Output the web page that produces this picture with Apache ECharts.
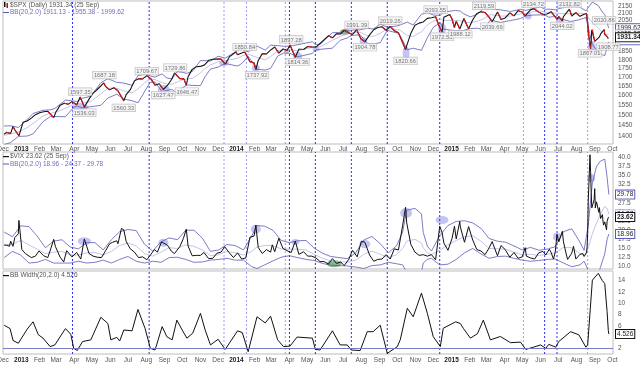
<!DOCTYPE html>
<html><head><meta charset="utf-8">
<script src="https://cdn.jsdelivr.net/npm/echarts@6/dist/echarts.min.js"></script>
<style>html,body{margin:0;padding:0;background:#fff}#c{width:640px;height:366px}</style>
</head><body><div id="c"></div>
<script>
// ---------- DATA ----------
const spxDates = ['2012-12-03','2012-12-07','2012-12-14','2012-12-18','2012-12-21','2012-12-28','2013-01-04','2013-01-11','2013-01-18','2013-01-25','2013-02-01','2013-02-08','2013-02-15','2013-02-25','2013-03-01','2013-03-08','2013-03-15','2013-03-22','2013-03-28','2013-04-05','2013-04-11','2013-04-18','2013-04-26','2013-05-03','2013-05-10','2013-05-21','2013-05-24','2013-05-31','2013-06-07','2013-06-14','2013-06-24','2013-06-28','2013-07-05','2013-07-12','2013-07-19','2013-07-26','2013-08-02','2013-08-09','2013-08-16','2013-08-23','2013-08-30','2013-09-06','2013-09-13','2013-09-18','2013-09-27','2013-10-04','2013-10-08','2013-10-11','2013-10-18','2013-10-25','2013-11-01','2013-11-08','2013-11-15','2013-11-22','2013-11-29','2013-12-06','2013-12-13','2013-12-20','2013-12-31','2014-01-03','2014-01-10','2014-01-15','2014-01-17','2014-01-24','2014-01-31','2014-02-03','2014-02-07','2014-02-14','2014-02-21','2014-02-28','2014-03-07','2014-03-14','2014-03-21','2014-03-28','2014-04-02','2014-04-11','2014-04-17','2014-04-25','2014-05-02','2014-05-09','2014-05-16','2014-05-23','2014-05-30','2014-06-06','2014-06-13','2014-06-20','2014-06-27','2014-07-03','2014-07-11','2014-07-17','2014-07-24','2014-07-31','2014-08-07','2014-08-15','2014-08-22','2014-08-29','2014-09-05','2014-09-12','2014-09-19','2014-09-26','2014-10-03','2014-10-10','2014-10-15','2014-10-17','2014-10-24','2014-10-31','2014-11-07','2014-11-14','2014-11-21','2014-11-28','2014-12-05','2014-12-12','2014-12-16','2014-12-19','2014-12-29','2015-01-02','2015-01-06','2015-01-09','2015-01-15','2015-01-22','2015-01-30','2015-02-06','2015-02-13','2015-02-20','2015-02-27','2015-03-06','2015-03-11','2015-03-13','2015-03-20','2015-03-26','2015-04-02','2015-04-10','2015-04-17','2015-04-24','2015-05-01','2015-05-06','2015-05-15','2015-05-21','2015-05-29','2015-06-05','2015-06-12','2015-06-19','2015-06-29','2015-07-02','2015-07-08','2015-07-10','2015-07-20','2015-07-24','2015-07-31','2015-08-07','2015-08-14','2015-08-18','2015-08-20','2015-08-21','2015-08-24','2015-08-25','2015-08-27','2015-08-28','2015-09-01','2015-09-04','2015-09-09','2015-09-11','2015-09-17','2015-09-18','2015-09-22','2015-09-24','2015-09-25'];
const spxClose = [1409,1418,1413,1446,1430,1402,1466,1472,1486,1503,1513,1518,1520,1488,1518,1551,1561,1556,1569,1553,1593,1541,1582,1614,1633,1669,1650,1631,1643,1626,1573,1606,1632,1680,1692,1691,1709,1691,1656,1664,1633,1655,1688,1725,1692,1691,1656,1703,1745,1760,1762,1771,1798,1804,1806,1805,1775,1818,1848,1831,1842,1848,1839,1790,1783,1742,1797,1838,1836,1859,1878,1841,1866,1857,1891,1816,1864,1863,1881,1878,1878,1900,1924,1949,1936,1963,1961,1985,1967,1958,1988,1931,1910,1955,1988,2003,2008,1985,2011,1982,1968,1906,1862,1887,1965,2018,2032,2040,2064,2068,2075,2003,1973,2071,2091,2058,2003,2045,1993,2063,1995,2055,2097,2110,2104,2071,2041,2053,2108,2057,2067,2102,2081,2117,2108,2081,2123,2131,2107,2092,2094,2110,2058,2077,2047,2077,2128,2080,2104,2078,2092,2097,2036,1971,1893,1868,1988,1989,1914,1921,1942,1961,1990,1958,1943,1932,1931.34];

const spxBandDates = ['2012-12-03','2012-12-14','2012-12-27','2013-01-11','2013-01-21','2013-02-07','2013-02-19','2013-02-27','2013-03-17','2013-03-31','2013-04-06','2013-04-15','2013-04-29','2013-05-16','2013-05-28','2013-06-12','2013-06-24','2013-07-08','2013-07-18','2013-07-30','2013-08-08','2013-08-16','2013-08-28','2013-09-05','2013-09-14','2013-09-22','2013-10-01','2013-10-09','2013-10-19','2013-11-01','2013-11-09','2013-11-18','2013-12-01','2013-12-13','2014-01-03','2014-01-11','2014-01-21','2014-02-05','2014-02-19','2014-02-28','2014-03-12','2014-03-22','2014-04-02','2014-04-14','2014-05-10','2014-05-15','2014-05-23','2014-06-13','2014-06-26','2014-07-08','2014-07-15','2014-07-30','2014-08-11','2014-08-21','2014-09-02','2014-09-14','2014-10-01','2014-10-06','2014-10-18','2014-10-28','2014-11-11','2014-11-21','2014-12-01','2014-12-13','2014-12-18','2015-01-08','2015-01-16','2015-01-21','2015-02-02','2015-02-14','2015-02-24','2015-03-08','2015-03-25','2015-04-11','2015-04-28','2015-05-07','2015-05-20','2015-06-01','2015-06-10','2015-06-15','2015-06-27','2015-07-02','2015-07-22','2015-08-05','2015-08-17','2015-08-20','2015-08-28','2015-09-07','2015-09-14','2015-09-18','2015-09-22','2015-09-24','2015-09-25'];
const spxUpper = [1448,1449,1441,1479,1509,1525,1527,1534,1577,1572,1570,1587,1597,1670,1692,1672,1668,1656,1709,1718,1707,1701,1719,1696,1691,1731,1729,1722,1735,1796,1796,1793,1822,1811,1856,1869,1848,1884,1859,1890,1887,1883,1884,1892,1911,1894,1896,1969,1970,1985,1985,1988,1998,1993,2025,2006,2013,2020,2039,2019,2092,2103,2087,2084,2107,2119,2114,2097,2074,2092,2132,2127,2123,2111,2127,2119,2133,2142,2126,2128,2123,2132,2147,2146,2116,2119,2178,2153,2108,2090,2040,2007,1999.62];
const spxMid = [1405,1410,1420,1440,1460,1497,1510,1514,1535,1556,1558,1562,1570,1610,1640,1640,1625,1615,1636,1672,1690,1687,1670,1662,1662,1672,1685,1690,1695,1725,1750,1770,1790,1795,1810,1825,1835,1815,1800,1820,1855,1862,1862,1855,1875,1877,1880,1920,1945,1960,1968,1972,1950,1945,1965,1995,1990,1985,1950,1945,1975,2020,2045,2060,2050,2050,2048,2040,2035,2045,2060,2090,2080,2080,2095,2100,2110,2115,2105,2100,2100,2098,2095,2100,2093,2092,2035,2000,1970,1958,1957,1956,1955.38];
const spxLower = [1362,1371,1399,1401,1411,1469,1493,1494,1493,1540,1546,1537,1543,1550,1588,1608,1582,1574,1563,1626,1673,1673,1621,1628,1633,1613,1641,1658,1655,1654,1704,1747,1758,1779,1764,1781,1822,1746,1741,1750,1823,1841,1840,1818,1839,1860,1864,1871,1920,1935,1951,1956,1902,1897,1905,1984,1967,1950,1861,1871,1858,1937,2003,2036,1993,1981,1982,1983,1996,1998,1988,2053,2037,2049,2063,2081,2087,2088,2084,2072,2077,2064,2043,2054,2070,2065,1892,1847,1832,1826,1874,1905,1911.13];

const vixDates = ['2012-12-03','2012-12-07','2012-12-12','2012-12-14','2012-12-18','2012-12-21','2012-12-27','2012-12-28','2013-01-02','2013-01-08','2013-01-18','2013-01-25','2013-01-31','2013-02-08','2013-02-15','2013-02-20','2013-02-25','2013-02-28','2013-03-08','2013-03-14','2013-03-19','2013-03-28','2013-04-05','2013-04-12','2013-04-18','2013-04-26','2013-05-03','2013-05-10','2013-05-17','2013-05-23','2013-05-31','2013-06-05','2013-06-12','2013-06-14','2013-06-20','2013-06-24','2013-06-28','2013-07-05','2013-07-12','2013-07-19','2013-07-26','2013-08-02','2013-08-09','2013-08-15','2013-08-20','2013-08-27','2013-08-30','2013-09-06','2013-09-13','2013-09-18','2013-09-27','2013-10-03','2013-10-08','2013-10-11','2013-10-18','2013-10-25','2013-11-01','2013-11-07','2013-11-15','2013-11-22','2013-11-29','2013-12-06','2013-12-12','2013-12-20','2013-12-27','2014-01-03','2014-01-10','2014-01-17','2014-01-24','2014-01-31','2014-02-03','2014-02-07','2014-02-14','2014-02-21','2014-02-28','2014-03-03','2014-03-07','2014-03-14','2014-03-21','2014-03-28','2014-04-04','2014-04-11','2014-04-17','2014-04-25','2014-05-02','2014-05-09','2014-05-16','2014-05-23','2014-05-30','2014-06-06','2014-06-13','2014-06-20','2014-06-27','2014-07-03','2014-07-11','2014-07-17','2014-07-25','2014-08-01','2014-08-07','2014-08-15','2014-08-22','2014-08-29','2014-09-05','2014-09-12','2014-09-19','2014-09-26','2014-10-03','2014-10-10','2014-10-15','2014-10-17','2014-10-24','2014-10-31','2014-11-07','2014-11-14','2014-11-21','2014-11-28','2014-12-05','2014-12-12','2014-12-16','2014-12-19','2014-12-26','2015-01-02','2015-01-06','2015-01-09','2015-01-15','2015-01-16','2015-01-23','2015-01-30','2015-02-06','2015-02-13','2015-02-20','2015-02-27','2015-03-06','2015-03-11','2015-03-13','2015-03-20','2015-03-26','2015-04-02','2015-04-10','2015-04-17','2015-04-24','2015-05-01','2015-05-06','2015-05-08','2015-05-15','2015-05-22','2015-05-29','2015-06-05','2015-06-10','2015-06-12','2015-06-16','2015-06-19','2015-06-23','2015-06-26','2015-06-29','2015-07-02','2015-07-08','2015-07-10','2015-07-15','2015-07-17','2015-07-24','2015-07-27','2015-07-31','2015-08-07','2015-08-12','2015-08-14','2015-08-17','2015-08-18','2015-08-19','2015-08-20','2015-08-21','2015-08-24','2015-08-25','2015-08-26','2015-08-27','2015-08-28','2015-08-31','2015-09-01','2015-09-02','2015-09-03','2015-09-04','2015-09-08','2015-09-09','2015-09-10','2015-09-11','2015-09-14','2015-09-15','2015-09-16','2015-09-17','2015-09-18','2015-09-21','2015-09-22','2015-09-23','2015-09-24','2015-09-25'];
const vixClose = [15.9,15.9,15.6,17.0,15.6,18.0,19.0,22.7,14.7,13.6,12.5,12.9,14.3,13.0,12.5,14.9,17.5,15.5,12.6,11.3,14.4,12.7,13.9,12.1,17.6,13.6,12.9,12.6,12.5,14.1,16.3,16.7,17.1,16.3,20.5,20.1,16.9,14.9,14.0,12.5,12.7,11.9,13.4,14.7,14.0,16.8,17.0,15.9,14.2,13.6,15.5,17.7,20.3,15.7,13.0,13.1,13.1,13.9,12.2,12.3,13.7,14.0,15.5,13.8,12.5,13.8,12.1,12.4,18.1,18.4,21.4,15.3,13.6,14.7,14.0,16.0,14.1,17.8,15.0,14.4,13.9,17.0,13.4,14.1,12.9,12.9,12.4,11.4,11.4,10.7,12.2,10.9,11.3,10.3,12.1,14.5,12.7,17.0,16.7,13.2,11.5,12.0,12.1,13.3,12.1,14.9,14.6,21.2,26.3,22.0,16.1,14.0,13.1,13.3,12.9,13.3,11.9,21.1,19.4,16.5,14.5,17.8,21.1,17.6,22.4,20.9,16.7,21.0,17.3,14.7,14.3,13.3,15.2,16.9,16.0,13.0,15.8,14.7,12.6,13.9,12.3,12.7,15.2,12.9,12.4,12.1,13.8,14.2,13.2,13.8,14.8,13.9,12.1,14.0,18.9,16.8,19.7,16.8,13.2,12.0,13.7,15.6,12.1,13.4,13.6,12.8,13.0,13.8,15.3,19.1,28.0,40.7,36.0,30.3,26.1,26.1,28.4,31.4,26.1,25.6,27.8,24.9,26.2,24.4,23.2,24.3,22.5,21.4,21.1,22.3,20.1,22.4,22.1,23.5,23.62];

const vixBandDates = ['2012-12-03','2012-12-17','2012-12-31','2013-01-14','2013-01-28','2013-02-11','2013-02-25','2013-03-11','2013-03-25','2013-04-08','2013-04-22','2013-05-06','2013-05-20','2013-06-03','2013-06-17','2013-07-01','2013-07-15','2013-07-29','2013-08-12','2013-08-26','2013-09-09','2013-09-23','2013-10-07','2013-10-21','2013-11-04','2013-11-18','2013-12-02','2013-12-16','2013-12-30','2014-01-13','2014-01-27','2014-02-05','2014-02-18','2014-03-04','2014-03-18','2014-04-01','2014-04-15','2014-04-29','2014-05-13','2014-05-27','2014-06-10','2014-06-24','2014-07-08','2014-07-22','2014-08-05','2014-08-19','2014-09-02','2014-09-16','2014-09-30','2014-10-10','2014-10-17','2014-10-31','2014-11-11','2014-11-14','2014-11-21','2014-11-28','2014-12-12','2014-12-26','2015-01-09','2015-01-23','2015-02-06','2015-02-20','2015-03-06','2015-03-20','2015-04-03','2015-04-17','2015-05-01','2015-05-15','2015-05-29','2015-06-12','2015-06-26','2015-07-10','2015-07-24','2015-08-07','2015-08-14','2015-08-21','2015-08-28','2015-09-04','2015-09-11','2015-09-18','2015-09-22','2015-09-25'];
const vixUpper = [19.5,18.2,21.2,21.0,18.4,15.2,17.0,17.4,15.4,14.9,16.6,16.6,14.6,17.4,19.6,20.2,19.9,16.2,14.3,16.8,17.9,17.4,20.0,20.0,17.9,14.2,14.6,16.1,15.8,14.6,18.4,21.3,21.1,20.0,17.2,16.6,17.1,17.2,15.1,13.7,12.8,12.5,12.2,13.7,17.3,18.3,16.3,13.8,15.8,19.5,25.5,26.0,24.5,19.4,15.6,14.3,18.5,21.3,22.4,22.6,22.0,20.5,17.7,17.0,16.7,15.7,14.6,15.3,14.5,14.8,15.5,19.6,20.4,16.7,14.5,21.4,33.0,37.5,39.0,39.5,34.5,29.78];
const vixMid = [16.0,16.2,17.2,16.0,14.8,13.6,14.0,14.2,13.2,13.2,13.8,13.9,13.2,14.2,15.8,16.5,15.7,13.6,12.9,14.0,15.2,15.0,16.0,15.6,14.6,13.0,13.3,14.2,13.8,13.2,14.2,15.4,15.8,15.8,14.9,14.8,14.8,14.6,13.4,12.3,11.6,11.4,11.2,11.8,13.4,14.3,13.4,12.5,13.3,15.0,17.0,17.5,16.5,15.2,13.8,13.3,14.5,16.0,17.2,18.2,18.5,17.0,15.0,14.9,14.8,14.0,13.2,13.4,13.1,13.4,13.8,15.3,15.2,13.6,13.0,15.2,19.0,22.0,24.5,26.5,26.0,24.37];
const vixLower = [12.5,14.2,13.2,11.0,11.2,12.0,11.0,11.0,11.0,11.5,11.0,11.2,11.8,11.0,12.0,12.8,11.5,11.0,11.5,11.2,12.5,12.6,12.0,11.2,11.3,11.8,12.0,12.3,11.8,11.8,10.0,9.5,10.5,11.6,12.6,13.0,12.5,12.0,11.7,10.9,10.4,10.3,10.2,9.9,9.5,10.3,10.5,11.2,10.8,10.5,8.5,9.0,8.5,11.0,12.0,12.3,10.5,10.7,12.0,13.8,15.0,13.5,12.3,12.8,12.9,12.3,11.8,11.5,11.7,12.0,12.1,11.0,10.0,10.5,11.5,9.0,5.0,6.5,10.0,13.5,17.5,18.96];

const bbwDates = ['2012-12-03','2012-12-13','2012-12-18','2012-12-27','2013-01-11','2013-01-21','2013-01-30','2013-02-07','2013-02-19','2013-02-27','2013-03-17','2013-03-26','2013-03-31','2013-04-06','2013-04-15','2013-04-29','2013-05-16','2013-05-28','2013-06-02','2013-06-12','2013-06-17','2013-06-24','2013-07-08','2013-07-18','2013-07-30','2013-08-08','2013-08-16','2013-08-28','2013-09-05','2013-09-14','2013-09-22','2013-10-01','2013-10-09','2013-10-19','2013-11-01','2013-11-09','2013-11-18','2013-12-01','2013-12-13','2014-01-03','2014-01-11','2014-01-21','2014-02-05','2014-02-19','2014-02-28','2014-03-12','2014-03-22','2014-04-02','2014-04-14','2014-05-10','2014-05-15','2014-05-23','2014-06-13','2014-06-26','2014-07-08','2014-07-15','2014-07-30','2014-08-11','2014-08-21','2014-09-02','2014-09-14','2014-10-01','2014-10-06','2014-10-18','2014-10-28','2014-11-11','2014-11-21','2014-12-01','2014-12-13','2014-12-18','2015-01-08','2015-01-16','2015-01-21','2015-02-02','2015-02-14','2015-02-24','2015-03-08','2015-03-25','2015-04-11','2015-04-28','2015-05-07','2015-05-20','2015-06-01','2015-06-10','2015-06-15','2015-06-27','2015-07-02','2015-07-22','2015-08-05','2015-08-17','2015-08-20','2015-08-28','2015-09-07','2015-09-14','2015-09-18','2015-09-22','2015-09-24','2015-09-25'];
const bbwValues = [6.1,5.5,3.4,2.9,5.4,6.7,4.4,3.8,2.3,2.6,5.5,4.5,2.0,1.6,3.2,3.5,7.5,6.4,3.5,3.95,3.3,5.25,5.1,8.9,5.55,2.0,1.7,5.85,4.06,3.5,7.0,5.25,3.8,4.7,8.2,5.25,2.6,3.6,1.8,5.1,4.8,1.4,7.6,6.5,7.7,3.5,2.3,2.4,4.0,3.8,1.8,1.7,5.1,2.6,2.6,1.7,1.6,4.95,4.95,6.1,1.1,2.3,3.5,9.1,7.6,11.8,8.2,4.06,2.3,5.55,6.7,6.4,5.55,3.8,4.6,7.0,3.5,4.1,3.0,3.1,1.8,2.2,2.6,2.0,2.7,2.2,3.2,4.95,4.4,2.2,2.6,14.1,15.3,14.0,13.5,8.5,5.2,4.526];

const signalDates = ['2013-03-29','2013-08-06','2013-12-11','2014-01-18','2014-03-25','2014-04-01','2014-05-15','2014-07-15','2014-09-14','2014-12-12','2015-05-03','2015-06-08','2015-06-29','2015-08-20'];
const signalDark = [1,1,0,0,0,1,1,1,1,1,0,1,1,0];

const spxNoteDates = ['2013-04-11','2013-05-22','2013-08-02','2013-09-19','2014-01-15','2014-04-04','2014-07-24','2014-09-19','2014-12-05','2015-02-25','2015-05-20','2015-07-20','2015-09-17','2013-04-18','2013-06-24','2013-08-30','2013-10-09','2014-02-05','2014-04-15','2014-08-07','2014-10-15','2014-12-16','2015-01-16','2015-03-11','2015-07-08','2015-08-24','2015-09-24'];
const spxNoteValues = [1597.35,1687.18,1709.67,1729.86,1850.84,1897.28,1991.39,2019.26,2093.55,2119.59,2134.72,2132.82,2020.86,1536.03,1560.33,1627.47,1646.47,1737.92,1814.36,1904.78,1820.66,1972.56,1988.12,2039.69,2044.02,1867.01,1908.77];
const spxNoteIsHigh = [1,1,1,1,1,1,1,1,1,1,1,1,1,0,0,0,0,0,0,0,0,0,0,0,0,0,0];

const spxMarkDates = ['2013-04-11','2013-08-31','2013-12-11','2014-02-03','2014-03-27','2014-04-15','2014-05-16','2014-07-04','2014-08-04','2014-10-16','2014-12-16','2015-05-11','2015-07-04','2015-08-27'];
const spxMarkValues = [1541,1630,1782,1753,1854,1817,1866,1974,1916,1842,1994,2081,2047,1878];
const spxMarkW = [17,12,10,8,5,9,7,10,7,7,8,7,8,8];
const spxMarkH = [7,10,6,7,5,10,5,6,8,13,11,7,6,13];
const spxMarkGreen = [0,0,0,0,0,0,0,1,0,0,0,0,0,0];

const vixMarkDates = ['2013-04-18','2013-08-30','2014-02-03','2014-04-11','2014-06-16','2014-08-07','2014-10-16','2014-12-16','2015-05-06','2015-06-29','2015-08-26'];
const vixMarkValues = [17.0,16.6,20.3,16.8,10.8,16.2,24.7,22.8,14.9,18.2,34.3];
const vixMarkW = [13,10,10,8,15,11,12,13,5,8,8];
const vixMarkH = [8,8,9,6,7,8,10,8,3,8,8];
const vixMarkGreen = [0,0,0,0,1,0,0,0,0,0,0];

const spxTicks = [1400,1450,1500,1550,1600,1650,1700,1750,1800,1850,1900,1950,2000,2050,2100,2150];
const vixTicks = [10,12.5,15,17.5,20,22.5,25,27.5,30,32.5,35,37.5,40];
const bbwTicks = [2,4,6,8,10,12,14];

const spxLast = {upper:1999.62, mid:1955.38, close:1931.34, lower:1911.13};
const vixLast = {upper:29.78, mid:24.37, close:23.62, lower:18.96};
const bbwLast = 4.526;
const bbwRef = 2;

// ---------- BUILD ----------
const FONT = 'Liberation Sans';
const BLUE = '#5a5ab8', LIGHT = '#b4b4e2';
const DARKSIG = '#2a2aff', LIGHTSIG = '#9a9af8';
const ln = Math.log;
const ts = s => new Date(s + 'T00:00:00').getTime();
const zip = (d, v, f) => d.map((x, i) => [x, f ? f(v[i]) : v[i]]);
const xMin = ts('2012-12-01'), xMax = ts('2015-10-02');

const yRange = [[ln(1364.7), ln(2185.6)], [9.37, 41.45], [0.99, 15.72]];

// down-move segments of the SPX close, drawn red over the black line
const spxDown = [];
spxDates.forEach((d, i) => {
  if (i > 0 && spxClose[i] < spxClose[i - 1]) {
    spxDown.push([spxDates[i - 1], ln(spxClose[i - 1])], [d, ln(spxClose[i])], [d, '-']);
  }
});

// vertical signal lines as broken line series spanning each panel
function signalSeries(xi, dark) {
  const [lo, hi] = yRange[xi];
  const data = [];
  signalDates.forEach((d, i) => {
    if (!!signalDark[i] === dark) data.push([d, lo], [d, hi], [d, '-']);
  });
  const c = dark ? DARKSIG : LIGHTSIG;
  return {type: 'line', xAxisIndex: xi, yAxisIndex: xi, data: data, symbol: 'none', silent: true, z: 2,
    connectNulls: false, color: c, lineStyle: {color: c, width: 1, type: [2, 2]}, animation: false};
}

function boxLine(val, text, border, bold) {
  return {yAxis: val, lineStyle: {color: 'rgba(0,0,0,0)', width: 0},
    label: {show: true, position: 'end', distance: 3, formatter: text, fontFamily: FONT, fontSize: 6.5,
      color: '#222', fontWeight: bold ? 'bold' : 'normal', backgroundColor: '#fff', borderColor: border, borderWidth: 1, padding: [1, 1, 0, 1]}};
}
function boxCfg(items) { return {symbol: 'none', silent: true, data: items}; }

function xAxisCfg(idx, showLabel, margin) {
  return {type: 'time', gridIndex: idx, min: xMin, max: xMax, splitNumber: 36,
    minInterval: 27 * 864e5, maxInterval: 32 * 864e5,
    axisLine: {show: false}, axisTick: {show: false}, splitLine: {show: false},
    axisLabel: {show: showLabel, margin: margin, fontFamily: FONT, fontSize: 6.5, color: '#555',
      hideOverlap: false,
      formatter: {year: '{yr|{yyyy}}', month: '{MMM}', day: '{MMM}'},
      rich: {yr: {fontWeight: 'bold', color: '#222', fontFamily: FONT, fontSize: 6.5}}}};
}
function yAxisCfg(idx, ticks, fmt) {
  return {type: 'value', gridIndex: idx, position: 'right', min: yRange[idx][0], max: yRange[idx][1],
    axisLine: {show: false}, axisTick: {show: false}, splitLine: {show: false},
    axisLabel: {customValues: ticks, formatter: fmt, margin: 5, fontFamily: FONT, fontSize: 6.5, color: '#555'}};
}
const line = (xi, data, color, width, extra) => Object.assign({type: 'line', xAxisIndex: xi, yAxisIndex: xi, data: data,
  symbol: 'none', showSymbol: false, color: color, lineStyle: {color: color, width: width}, itemStyle: {color: color}, animation: false, silent: true}, extra || {});
const holder = (xi, z, markLine, color) => ({type: 'line', xAxisIndex: xi, yAxisIndex: xi, data: [], symbol: 'none', z: z, silent: true,
  color: color || '#000', itemStyle: {color: color || '#000'}, lineStyle: {color: color || '#000'}, markLine: markLine});
const ellipses = (xi, d, v, w, h, g, f) => ({type: 'scatter', xAxisIndex: xi, yAxisIndex: xi, silent: true, z: 1,
  data: d.map((x, i) => ({value: [x, f ? f(v[i]) : v[i]], symbolSize: [w[i], h[i]],
    itemStyle: {color: g[i] ? 'rgba(40,120,60,0.7)' : 'rgba(90,90,225,0.45)'}}))});

const gridBase = {left: 3, right: 27, show: true, borderColor: '#bdbdbd', borderWidth: 1, containLabel: false, outerBoundsMode: 'none'};
const option = {
  animation: false,
  backgroundColor: '#fff',
  textStyle: {fontFamily: FONT},
  grid: [
    Object.assign({top: 1, height: 143}, gridBase),
    Object.assign({top: 152, height: 117}, gridBase),
    Object.assign({top: 271, height: 83}, gridBase)
  ],
  xAxis: [xAxisCfg(0, true, 2), xAxisCfg(1, false, 2), xAxisCfg(2, true, 3)],
  yAxis: [
    yAxisCfg(0, spxTicks.map(ln), v => String(Math.round(Math.exp(v)))),
    yAxisCfg(1, vixTicks, v => v.toFixed(1)),
    yAxisCfg(2, bbwTicks, v => String(Math.round(v)))
  ],
  graphic: [
    {type: 'rect', shape: {x: 4, y: 2, width: 1.5, height: 5}, style: {fill: '#111'}},
    {type: 'rect', shape: {x: 6.5, y: 3, width: 1.5, height: 5}, style: {fill: '#d00'}},
    {type: 'text', x: 10, y: 1.5, style: {text: '$SPX (Daily) 1931.34 (25 Sep)', fill: '#555', font: '6.5px ' + FONT}},
    {type: 'rect', shape: {x: 3, y: 12, width: 6, height: 1}, style: {fill: BLUE}},
    {type: 'text', x: 10, y: 9, style: {text: 'BB(20,2.0) 1911.13 - 1955.38 - 1999.62', fill: '#7070b8', font: '6.5px ' + FONT}},
    {type: 'rect', shape: {x: 3, y: 156, width: 6, height: 1.2}, style: {fill: '#111'}},
    {type: 'text', x: 10, y: 153, style: {text: '$VIX 23.62 (25 Sep)', fill: '#555', font: '6.5px ' + FONT}},
    {type: 'rect', shape: {x: 3, y: 163.5, width: 6, height: 1}, style: {fill: BLUE}},
    {type: 'text', x: 10, y: 160.5, style: {text: 'BB(20,2.0) 18.96 - 24.37 - 29.78', fill: '#7070b8', font: '6.5px ' + FONT}},
    {type: 'rect', shape: {x: 3, y: 275, width: 6, height: 1.2}, style: {fill: '#111'}},
    {type: 'text', x: 10, y: 272, style: {text: 'BB Width(20,2.0) 4.526', fill: '#555', font: '6.5px ' + FONT}}
  ],
  series: [
    ellipses(0, spxMarkDates, spxMarkValues, spxMarkW, spxMarkH, spxMarkGreen, ln),
    signalSeries(0, true), signalSeries(0, false),
    line(0, zip(spxBandDates, spxMid, ln), LIGHT, 0.8),
    line(0, zip(spxBandDates, spxUpper, ln), BLUE, 0.8),
    line(0, zip(spxBandDates, spxLower, ln), BLUE, 0.8),
    line(0, zip(spxDates, spxClose, ln), '#141414', 1.1, {z: 3}),
    line(0, spxDown, '#e01818', 1.1, {z: 4, connectNulls: false}),
    holder(0, 10, boxCfg([boxLine(ln(spxLast.upper), '1999.62', BLUE)])),
    holder(0, 11, boxCfg([boxLine(ln(spxLast.mid), '1955.38', LIGHT)])),
    holder(0, 12, boxCfg([boxLine(ln(spxLast.lower), '1911.13', BLUE)])),
    holder(0, 13, boxCfg([boxLine(ln(spxLast.close), '1931.34', '#111', true)])),
    {type: 'scatter', xAxisIndex: 0, yAxisIndex: 0, silent: true, z: 6, symbolSize: 0,
      data: spxNoteDates.map((d, i) => ({value: [d, ln(spxNoteValues[i])], name: spxNoteValues[i].toFixed(2),
        label: {position: spxNoteIsHigh[i] ? 'top' : 'bottom', distance: 1}})),
      label: {show: true, formatter: p => p.name, fontFamily: FONT, fontSize: 5.8, color: '#555',
        backgroundColor: '#f2f2f2', borderColor: '#b0b0b0', borderWidth: 0.6, padding: [1, 1, 0, 1]}},

    ellipses(1, vixMarkDates, vixMarkValues, vixMarkW, vixMarkH, vixMarkGreen),
    signalSeries(1, true), signalSeries(1, false),
    line(1, zip(vixBandDates, vixMid), LIGHT, 0.8),
    line(1, zip(vixBandDates, vixUpper), BLUE, 0.8),
    line(1, zip(vixBandDates, vixLower), BLUE, 0.8),
    line(1, zip(vixDates, vixClose), '#111', 1, {z: 3}),
    holder(1, 10, boxCfg([boxLine(vixLast.upper, '29.78', BLUE)])),
    holder(1, 11, boxCfg([boxLine(vixLast.mid, '24.37', LIGHT)])),
    holder(1, 12, boxCfg([boxLine(vixLast.lower, '18.96', BLUE)])),
    holder(1, 13, boxCfg([boxLine(vixLast.close, '23.62', '#111', true)])),

    signalSeries(2, true), signalSeries(2, false),
    holder(2, 2, {symbol: 'none', silent: true, label: {show: false}, lineStyle: {color: '#7a7ac4', width: 1, type: 'solid'},
      data: [{yAxis: bbwRef}]}, '#7a7ac4'),
    line(2, zip(bbwDates, bbwValues), '#111', 1, {z: 3}),
    holder(2, 12, boxCfg([boxLine(bbwLast, '4.526', '#111', false)]))
  ]
};
const chart = echarts.init(document.getElementById('c'), null, {renderer: 'canvas'});
chart.setOption(option);
</script></body></html>
